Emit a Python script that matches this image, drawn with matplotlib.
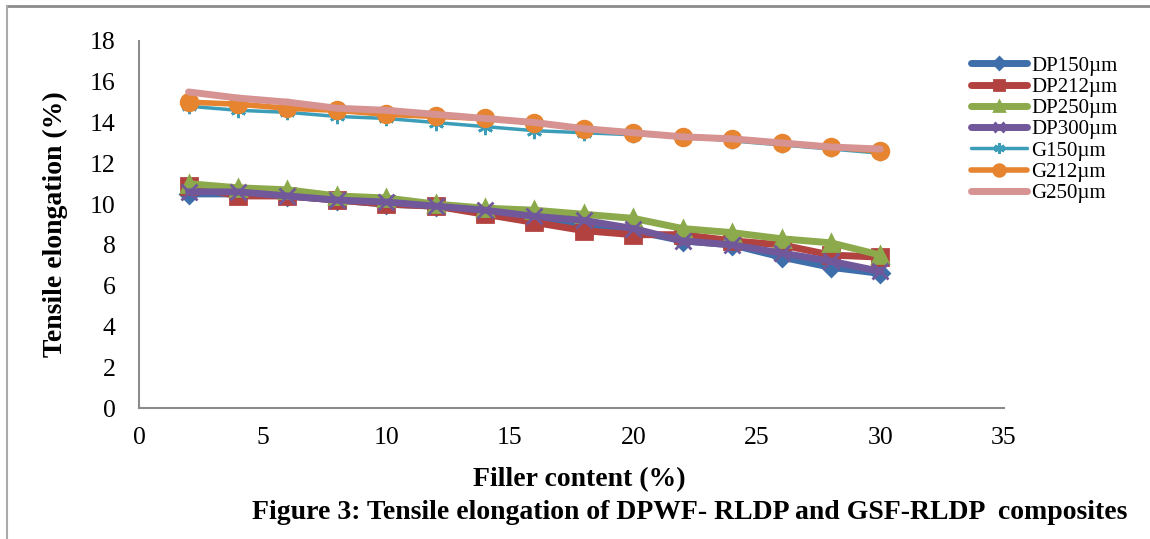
import numpy as np
import matplotlib.pyplot as plt
from matplotlib.lines import Line2D

plt.rcParams['font.family'] = ['Liberation Serif', 'DejaVu Serif']

filler = [2, 4, 6, 8, 10, 12, 14, 16, 18, 20, 22, 24, 26, 28, 30]

dp150 = [10.5, 10.5, 10.4, 10.2, 10.0, 9.9, 9.6, 9.3, 9.0, 8.7, 8.2, 8.0, 7.4, 6.9, 6.6]
dp212 = [10.9, 10.4, 10.4, 10.2, 10.0, 9.9, 9.5, 9.1, 8.7, 8.5, 8.5, 8.2, 8.0, 7.5, 7.4]
dp250 = [11.0, 10.8, 10.7, 10.4, 10.3, 10.0, 9.8, 9.7, 9.5, 9.3, 8.8, 8.6, 8.3, 8.1, 7.5]
dp300 = [10.6, 10.6, 10.4, 10.2, 10.1, 9.9, 9.7, 9.4, 9.2, 8.8, 8.2, 8.0, 7.6, 7.2, 6.7]
g150 = [14.8, 14.6, 14.5, 14.3, 14.2, 14.0, 13.8, 13.6, 13.5, 13.4, 13.3, 13.1, 12.9, 12.7, 12.5]
g212 = [15.0, 14.9, 14.7, 14.6, 14.4, 14.3, 14.2, 14.0, 13.7, 13.5, 13.3, 13.2, 13.0, 12.8, 12.6]
g250 = [15.5, 15.2, 15.0, 14.7, 14.6, 14.4, 14.2, 14.0, 13.7, 13.5, 13.3, 13.2, 13.0, 12.8, 12.7]

labels = ['DP150µm', 'DP212µm', 'DP250µm', 'DP300µm', 'G150µm', 'G212µm', 'G250µm']
series = [dp150, dp212, dp250, dp300, g150, g212, g250]
colores = ['#3F6FAA', '#B2423F', '#8CAA4B', '#71589A', '#3C9DB8', '#E6842F', '#D69392']
marcas = ['D', 's', '^', 'x', (6, 2, 0), 'o', None]
tamanos = [9, 11, 11, 11, 11, 12, 0]
grosores = [5.0, 5.0, 5.0, 5.0, 2.5, 4.0, 5.0]

fig = plt.figure(figsize=(11.5, 5.39), dpi=100)
ax = fig.add_axes([0.121, 0.243, 0.752, 0.681])

for i in range(len(series)):
    ax.plot(filler, series[i], color=colores[i], lw=grosores[i], marker=marcas[i],
            ms=tamanos[i], mew=2, label=labels[i], solid_capstyle='round')

ax.set_xlim(0, 35)
ax.set_ylim(0, 18)
ax.set_xticks(range(0, 36, 5))
ax.set_yticks(range(0, 19, 2))
ax.tick_params(length=0, labelsize=18.5)
ax.tick_params(axis='y', pad=17)
ax.tick_params(axis='x', pad=14)
for s in ['top', 'right']:
    ax.spines[s].set_visible(False)
for s in ['left', 'bottom']:
    ax.spines[s].set_color('#8c8c8c')
    ax.spines[s].set_linewidth(1.5)

ax.set_xlabel('Filler content (%)', fontsize=20, fontweight='bold')
ax.set_ylabel('Tensile elongation (%)', fontsize=20, fontweight='bold')
ax.xaxis.set_label_coords(0.509, -0.16)
ax.yaxis.set_label_coords(-0.082, 0.5)

leg = ax.legend(loc='upper left', bbox_to_anchor=(0.94, 1.01), frameon=False,
                fontsize=15, handlelength=2.7, labelspacing=0.08, handletextpad=0.2,
                markerscale=0.7)

fig.text(0.6, 0.05, 'Figure 3: Tensile elongation of DPWF- RLDP and GSF-RLDP  composites',
         ha='center', va='center', fontsize=20, fontweight='bold')

fig.add_artist(Line2D([0.006, 1], [0.989, 0.989], color='#8c8c8c', lw=2))
fig.add_artist(Line2D([0.006, 0.006], [0, 0.989], color='#aaaaaa', lw=1.5))

plt.savefig('out.png', dpi=100)
